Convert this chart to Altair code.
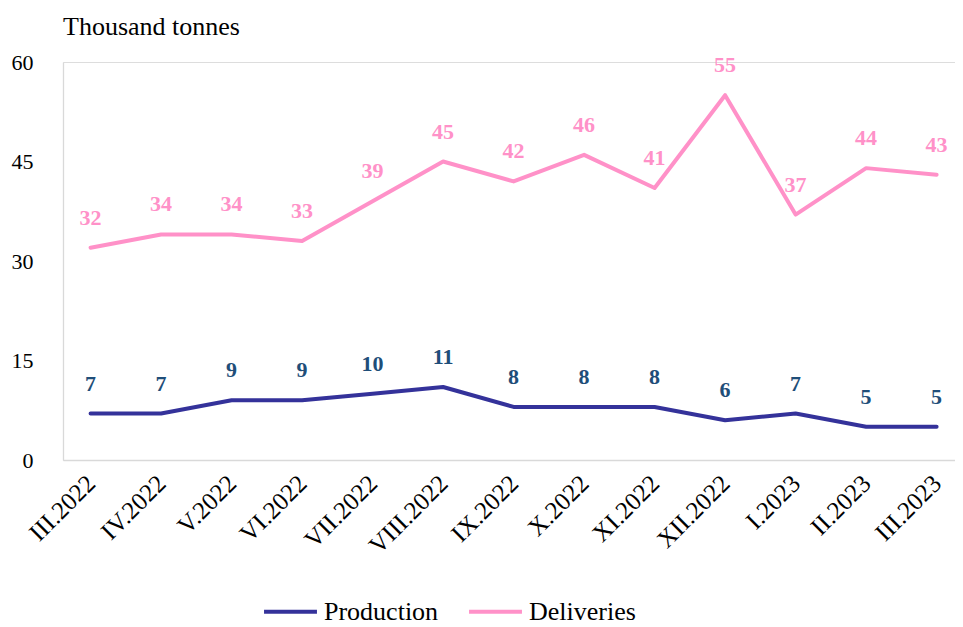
import altair as alt
import pandas as pd

months = ["III.2022", "IV.2022", "V.2022", "VI.2022", "VII.2022", "VIII.2022",
          "IX.2022", "X.2022", "XI.2022", "XII.2022", "I.2023", "II.2023", "III.2023"]
production = [7, 7, 9, 9, 10, 11, 8, 8, 8, 6, 7, 5, 5]
deliveries = [32, 34, 34, 33, 39, 45, 42, 46, 41, 55, 37, 44, 43]
series_names = ["Production", "Deliveries"]
series_colors = ["#34329A", "#FF91C8"]
label_colors = ["#1F4E79", "#FF91C8"]

rows = []
for i, m in enumerate(months):
    rows.append({"month": m, "series": "Production", "value": production[i]})
    rows.append({"month": m, "series": "Deliveries", "value": deliveries[i]})
df = pd.DataFrame(rows)

FONT = "Liberation Serif"

x = alt.X("month:N", sort=months,
          scale=alt.Scale(type="point", padding=0.326, align=0.6),
          axis=alt.Axis(title=None, labelAngle=-45, labelFontSize=25, labelFont=FONT,
                        labelColor="#000000", ticks=False, labelPadding=19,
                        domainColor="#D9D9D9", domainWidth=1.3, grid=False,
                        labelAlign="right", labelBaseline="middle"))
y = alt.Y("value:Q", scale=alt.Scale(domain=[0, 60], nice=False),
          axis=alt.Axis(title=None, values=[0, 15, 30, 45, 60], labelFontSize=22,
                        labelFont=FONT, labelColor="#000000", ticks=False,
                        labelPadding=30, domainColor="#D9D9D9", domainWidth=1.3,
                        grid=False))

color = alt.Color("series:N", scale=alt.Scale(domain=series_names, range=series_colors),
                  legend=alt.Legend(title=None, orient="none", legendX=199, legendY=521,
                                    direction="horizontal", symbolType="stroke",
                                    symbolSize=2800, symbolStrokeWidth=4,
                                    labelFont=FONT, labelFontSize=26, labelColor="#000000",
                                    labelOffset=5, columnPadding=22, padding=0))

lines = alt.Chart(df).mark_line(strokeWidth=4, strokeCap="round", strokeJoin="round").encode(
    x=x, y=y, color=color)

prod_labels = alt.Chart(df).transform_filter(alt.datum.series == "Production").mark_text(
    dy=-30, font=FONT, fontSize=22, fontWeight="bold", color=label_colors[0]).encode(
    x=x, y=y, text="value:Q")

del_labels = alt.Chart(df).transform_filter(alt.datum.series == "Deliveries").mark_text(
    dy=-30, font=FONT, fontSize=22, fontWeight="bold", color=label_colors[1]).encode(
    x=x, y=y, text="value:Q")

chart = alt.layer(lines, prod_labels, del_labels).properties(
    width=892, height=398,
    title=alt.TitleParams("Thousand tonnes", anchor="start", font=FONT, fontSize=26,
                          fontWeight="normal", color="#000000", offset=11, frame="group"),
    autosize=alt.AutoSizeParams(type="none"),
    padding={"left": 55, "top": 54, "right": 0, "bottom": 167},
).configure_view(stroke=None).configure(background="#FFFFFF")

chart.save("out.html", embed_options={"renderer": "svg", "actions": False})
